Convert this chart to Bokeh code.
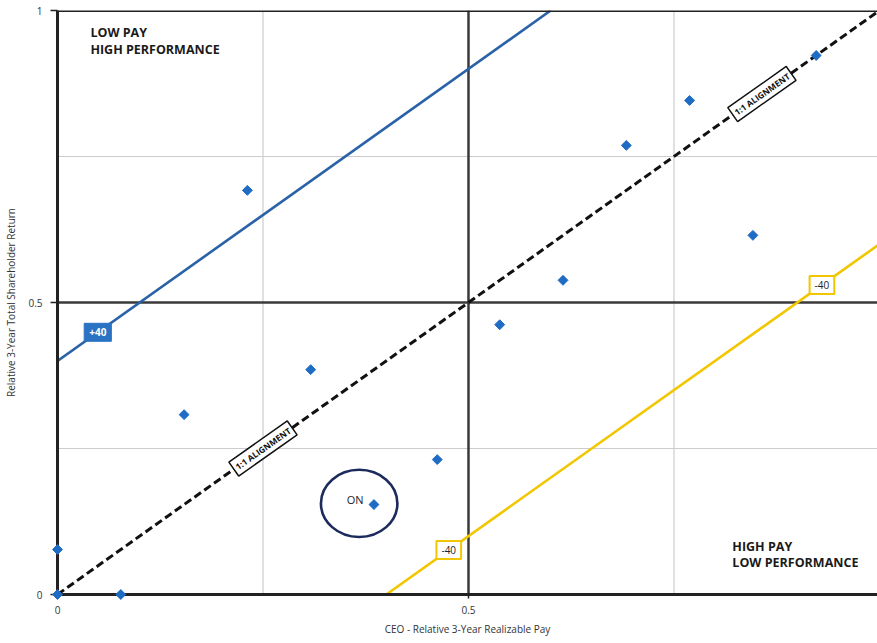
import math
from bokeh.plotting import figure
from bokeh.models import Range1d, FixedTicker, Span, Label, ColumnDataSource
from bokeh.core.properties import value
from bokeh.embed import file_html
from bokeh.resources import INLINE

# ---- data ----
pay_pct = [0.0, 0.0, 0.077, 0.154, 0.231, 0.308, 0.385, 0.462, 0.538, 0.615, 0.692, 0.769, 0.846, 0.923]
tsr_pct = [0.0, 0.077, 0.0, 0.308, 0.692, 0.385, 0.154, 0.231, 0.462, 0.538, 0.769, 0.846, 0.615, 0.923]

align_x = [0.0, 1.0]
align_y = [0.0, 1.0]
upper_x = [0.0, 0.6]
upper_y = [0.4, 1.0]
lower_x = [0.4, 1.0]
lower_y = [0.0, 0.6]

tick_values = [0, 0.5, 1]
tick_labels = ["0", "0.5", "1"]

quad_text = ["LOW PAY", "HIGH PERFORMANCE", "HIGH PAY", "LOW PERFORMANCE"]
quad_x = [0.04, 0.04, 0.821, 0.821]
quad_y = [0.962, 0.933, 0.083, 0.054]

align_label_text = "1:1 ALIGNMENT"
align_label_pos = [(0.25, 0.25), (0.857, 0.857)]
plus_label = ("+40", 0.049, 0.449)
minus_labels = [("-40", 0.93, 0.53), ("-40", 0.476, 0.076)]

on_company = ("ON", 0.362, 0.162)
on_ring = (0.367, 0.156, 0.093, 0.115)

FONT = "Open Sans"
BLUE_LINE = "#2a62a8"
DOT = "#1f6cc4"
YELLOW = "#f2c600"
NAVY = "#1d2a5c"

p = figure(width=877, height=643, output_backend="svg", toolbar_location=None,
           x_range=Range1d(0, 0.9976), y_range=Range1d(0, 1),
           min_border_left=57, min_border_right=0, min_border_top=10, min_border_bottom=49)
p.outline_line_color = None
p.xgrid.visible = False
p.ygrid.visible = False
p.background_fill_color = "white"

for ax in (p.xaxis[0], p.yaxis[0]):
    ax.ticker = FixedTicker(ticks=tick_values)
    ax.major_label_overrides = {float(v): l for v, l in zip(tick_values, tick_labels)}
    ax.axis_line_width = 3
    ax.axis_line_color = "#222222"
    ax.major_tick_line_color = "#222222"
    ax.major_tick_line_width = 1.5
    ax.major_tick_in = 0
    ax.minor_tick_line_color = None
    ax.major_label_text_font = FONT
    ax.major_label_text_font_size = "10px"
    ax.major_label_text_color = "#333333"
    ax.axis_label_text_font = FONT
    ax.axis_label_text_font_size = "10px"
    ax.axis_label_text_font_style = "normal"
    ax.axis_label_text_color = "#333333"

p.xaxis.major_tick_out = 4
p.xaxis.major_label_standoff = 7
p.xaxis.axis_label_standoff = 5
p.yaxis.major_tick_out = 7
p.yaxis.major_label_standoff = 8
p.yaxis.axis_label_standoff = 7
p.xaxis.axis_label = "CEO - Relative 3-Year Realizable Pay"
p.yaxis.axis_label = "Relative 3-Year Total Shareholder Return"

# grid / quadrant lines
for loc in (0.25, 0.75):
    p.add_layout(Span(location=loc, dimension="width", line_color="#cccccc", line_width=1.2, level="underlay"))
    p.add_layout(Span(location=loc, dimension="height", line_color="#cccccc", line_width=1.2, level="underlay"))
p.add_layout(Span(location=0.5, dimension="width", line_color="#3a3a3a", line_width=2.5, level="underlay"))
p.add_layout(Span(location=0.5, dimension="height", line_color="#3a3a3a", line_width=2.5, level="underlay"))
p.add_layout(Span(location=1.0, dimension="width", line_color="#222222", line_width=3))

# reference lines
p.line(upper_x, upper_y, line_color=BLUE_LINE, line_width=2.6)
p.line(lower_x, lower_y, line_color=YELLOW, line_width=2.6)
p.line(align_x, align_y, line_color="#111111", line_width=3, line_dash="8 4")

# ring around ON
cx, cy, w, h = on_ring
p.ellipse(x=[cx], y=[cy], width=[w], height=[h], fill_color=None, line_color=NAVY, line_width=2.6)

# points
src = ColumnDataSource(dict(x=pay_pct, y=tsr_pct))
p.scatter("x", "y", source=src, marker="square", angle=math.pi / 4, size=7,
          fill_color=DOT, line_color=DOT, level="overlay")

# labels
for (lx, ly) in align_label_pos:
    p.add_layout(Label(x=lx, y=ly, text=align_label_text, angle=35.2, angle_units="deg",
                       text_align="center", text_baseline="middle",
                       text_font=FONT, text_font_size="8.5px", text_font_style="bold", text_color="#111111",
                       background_fill_color="white", border_line_color="#111111", border_line_width=1.5,
                       padding=3))

t, lx, ly = plus_label
p.add_layout(Label(x=lx, y=ly, text=t, text_align="center", text_baseline="middle",
                   text_font=FONT, text_font_size="10px", text_font_style="bold", text_color="white",
                   background_fill_color="#2a72c4", border_line_color="#2a72c4", border_line_width=1,
                   padding=5))
for t, lx, ly in minus_labels:
    p.add_layout(Label(x=lx, y=ly, text=t, text_align="center", text_baseline="middle",
                       text_font=FONT, text_font_size="10px", text_font_style="normal", text_color="#222222",
                       background_fill_color="white", border_line_color=YELLOW, border_line_width=2,
                       padding=5))

t, lx, ly = on_company
p.text(x=[lx], y=[ly], text=[t], text_align="center", text_baseline="middle",
       text_font=value(FONT), text_font_size="11px", text_color="#222222")

p.text(x=quad_x, y=quad_y, text=quad_text, text_align="left", text_baseline="middle",
       text_font=value(FONT), text_font_size="12.5px", text_font_style="bold", text_color="#1a1a1a")

open("out.html", "w").write(file_html(p, INLINE))
